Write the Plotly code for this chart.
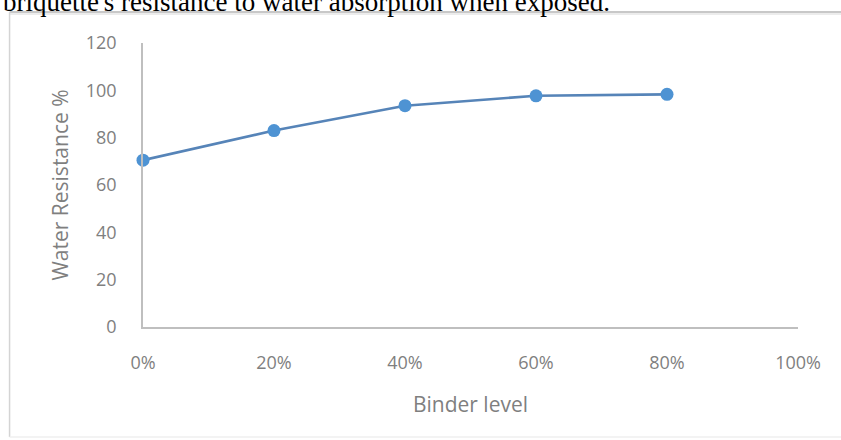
import plotly.graph_objects as go

# Binder level (fraction) vs. water resistance (%)
binder_level = [0.0, 0.2, 0.4, 0.6, 0.8]
water_resistance = [70.5, 83.0, 93.5, 97.7, 98.3]

x_ticks = [0.0, 0.2, 0.4, 0.6, 0.8, 1.0]
x_tick_labels = ["0%", "20%", "40%", "60%", "80%", "100%"]
y_ticks = [0, 20, 40, 60, 80, 100, 120]

caption = "briquette's resistance to water absorption when exposed."

W, H = 841, 440
ml, mr, mt, mb = 142.5, 43.2, 43, 113
pw, ph = W - ml - mr, H - mt - mb


def px_x(p):
    return (p - ml) / pw


def px_y(p):
    return (H - mb - p) / ph


fig = go.Figure()
fig.add_trace(go.Scatter(
    x=binder_level, y=water_resistance, mode="lines+markers",
    line=dict(color="#5684b8", width=2.6),
    marker=dict(color="#4e93d3", size=13, line=dict(width=0)),
    showlegend=False, cliponaxis=False,
))

tick_font = dict(family="Open Sans", size=18, color="#7f7f7f")
title_font = dict(family="Open Sans", size=21, color="#7f7f7f")

fig.update_layout(
    width=W, height=H,
    margin=dict(l=ml, r=mr, t=mt, b=mb, pad=0),
    paper_bgcolor="white", plot_bgcolor="white",
    xaxis=dict(
        range=[0, 1], tickvals=x_ticks, ticktext=x_tick_labels,
        showgrid=False, zeroline=False, showline=True, linecolor="#bfbfbf",
        linewidth=1.5, ticks="", tickfont=tick_font, ticklabelstandoff=19,
        title=dict(text="Binder level", font=title_font, standoff=24),
    ),
    yaxis=dict(
        range=[0, 120], tickvals=y_ticks,
        showgrid=False, zeroline=False, showline=True, linecolor="#bfbfbf",
        linewidth=1.5, ticks="", tickfont=tick_font, ticklabelstandoff=21,
        title=dict(text="Water Resistance %", font=title_font, standoff=11),
    ),
    shapes=[
        # chart frame
        dict(type="line", xref="paper", yref="paper",
             x0=px_x(9), x1=px_x(860), y0=px_y(12), y1=px_y(12),
             line=dict(color="#c8c8c8", width=2)),
        dict(type="line", xref="paper", yref="paper",
             x0=px_x(9), x1=px_x(860), y0=px_y(14), y1=px_y(14),
             line=dict(color="#ececec", width=2)),
        dict(type="line", xref="paper", yref="paper",
             x0=px_x(9), x1=px_x(9), y0=px_y(12), y1=px_y(437),
             line=dict(color="#d4d4d4", width=1.5)),
        dict(type="line", xref="paper", yref="paper",
             x0=px_x(9), x1=px_x(860), y0=px_y(437), y1=px_y(437),
             line=dict(color="#efefef", width=1.5)),
    ],
    annotations=[
        dict(text=caption, xref="paper", yref="paper",
             x=px_x(0), y=px_y(2), xanchor="left", yanchor="middle",
             showarrow=False,
             font=dict(family="Liberation Serif", size=27, color="black")),
    ],
)

fig.write_html("out.html")
